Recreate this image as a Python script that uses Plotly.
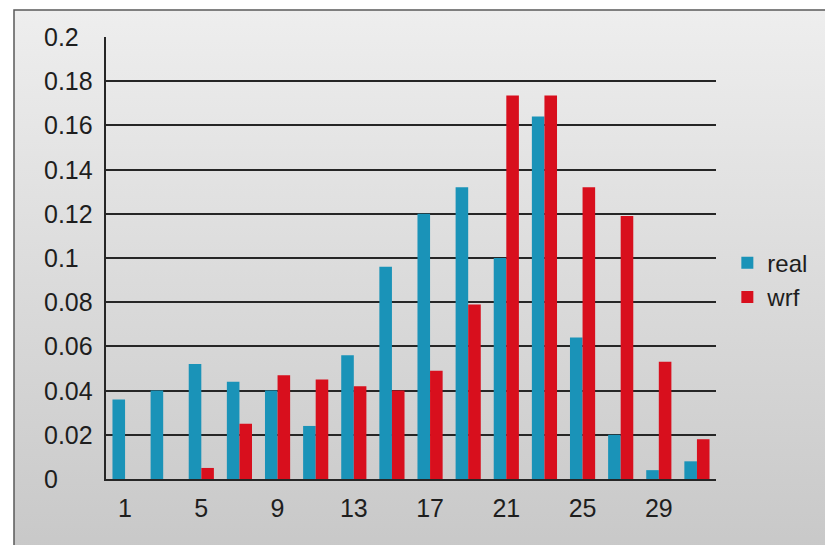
import base64
import plotly.graph_objects as go

categories = [1, 3, 5, 7, 9, 11, 13, 15, 17, 19, 21, 23, 25, 27, 29, 31]
real = [0.036, 0.040, 0.052, 0.044, 0.040, 0.024, 0.056, 0.096,
        0.120, 0.132, 0.100, 0.164, 0.064, 0.020, 0.004, 0.008]
wrf = [0.0, 0.0, 0.005, 0.025, 0.047, 0.045, 0.042, 0.040,
       0.049, 0.079, 0.1735, 0.1735, 0.132, 0.119, 0.053, 0.018]
x_tickvals = [1, 5, 9, 13, 17, 21, 25, 29]
x_ticktext = ["1", "5", "9", "13", "17", "21", "25", "29"]
y_tickvals = [0, 0.02, 0.04, 0.06, 0.08, 0.1, 0.12, 0.14, 0.16, 0.18, 0.2]
y_ticktext = ["0", "0.02", "0.04", "0.06", "0.08", "0.1", "0.12", "0.14", "0.16", "0.18", "0.2"]

FONT = "Liberation Sans, Arial, sans-serif"
W, H = 825, 545
L, R, T, B = 106, 109, 37, 66
PW, PH = W - L - R, H - T - B

fig = go.Figure()
fig.add_trace(go.Bar(x=categories, y=real, name="real",
                     marker=dict(color="#1a93b8", line=dict(width=0))))
fig.add_trace(go.Bar(x=categories, y=wrf, name="wrf",
                     marker=dict(color="#d80f1d", line=dict(width=0))))

svg = ('<svg xmlns="http://www.w3.org/2000/svg" width="100" height="100" viewBox="0 0 100 100" '
       'preserveAspectRatio="none"><defs><linearGradient id="g" x1="0" y1="0" x2="0" y2="1">'
       '<stop offset="0" stop-color="#eeeeee"/><stop offset="1" stop-color="#c3c3c3"/>'
       '</linearGradient></defs><rect width="100" height="100" fill="url(#g)"/></svg>')
src = "data:image/svg+xml;base64," + base64.b64encode(svg.encode()).decode()

fx0 = (14 - L) / PW
fx1 = (W + 80 - L) / PW
fy1 = (H - B - 10) / PH
fy0 = (H - B - (H + 80)) / PH

fig.add_layout_image(dict(source=src, xref="paper", yref="paper", x=fx0, y=fy1,
                          sizex=fx1 - fx0, sizey=fy1 - fy0, sizing="stretch",
                          xanchor="left", yanchor="top", layer="below"))
fig.add_shape(type="rect", xref="paper", yref="paper", x0=fx0, x1=fx1, y0=fy0, y1=fy1,
              line=dict(color="#5a5a5a", width=1.5), fillcolor="rgba(0,0,0,0)", layer="below")

for v, t in zip(y_tickvals, y_ticktext):
    fig.add_annotation(x=(42 - L) / PW, xref="paper", y=v, yref="y", text=t,
                       showarrow=False, xanchor="left", yanchor="middle",
                       font=dict(family=FONT, size=25, color="#1e1e1e"))

fig.update_layout(
    width=W, height=H,
    margin=dict(l=L, r=R, t=T, b=B, autoexpand=False),
    paper_bgcolor="white",
    plot_bgcolor="rgba(0,0,0,0)",
    barmode="group",
    bargap=0.34,
    bargroupgap=0,
    font=dict(family=FONT, size=24, color="#1e1e1e"),
    legend=dict(x=1.0186, y=0.45, xanchor="left", yanchor="middle",
                bgcolor="rgba(0,0,0,0)", font=dict(family=FONT, size=24, color="#1e1e1e"),
                tracegroupgap=0, itemwidth=30),
    xaxis=dict(range=[0, 32], tickvals=x_tickvals, ticktext=x_ticktext,
               showgrid=False, showline=True, linecolor="#262626", linewidth=2,
               ticks="", ticklabelstandoff=6, zeroline=False,
               tickfont=dict(family=FONT, size=25, color="#1e1e1e")),
    yaxis=dict(range=[0, 0.2], tickvals=y_tickvals, showticklabels=False,
               showgrid=True, gridcolor="#262626", gridwidth=2,
               showline=True, linecolor="#262626", linewidth=2,
               ticks="", zeroline=False),
)

fig.write_html("out.html")
